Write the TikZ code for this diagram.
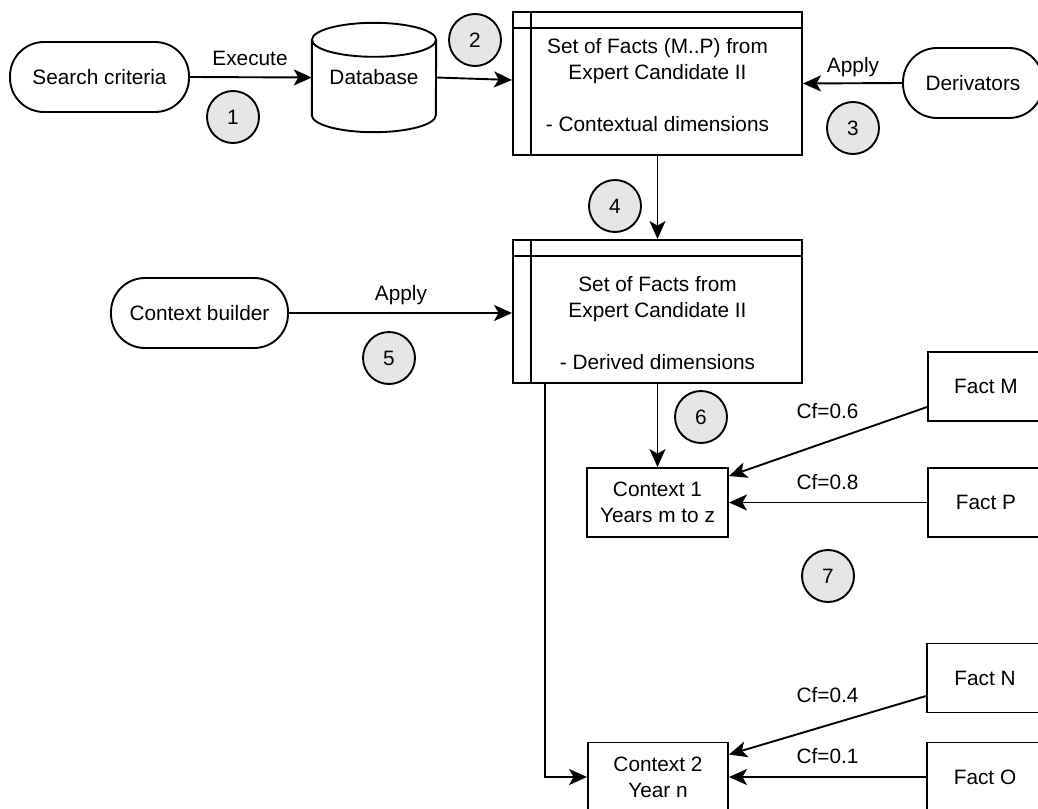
\documentclass[tikz,border=0pt]{standalone}
\usepackage{fontspec}
\setmainfont{Liberation Sans}
\usetikzlibrary{arrows.meta}
\definecolor{badgefill}{HTML}{E6E6E6}
\begin{document}
\begin{tikzpicture}[x=1pt,y=-1pt,
  every node/.style={font=\fontsize{20.8}{26}\selectfont, inner sep=0pt},
  outline/.style={line width=1.9pt},
  terminal/.style={outline, draw, rectangle, rounded corners=34pt, minimum height=70pt},
  procbox/.style={outline, draw, rectangle, minimum width=289pt, minimum height=143pt},
  plainbox/.style={outline, draw, rectangle, minimum height=69pt},
  badge/.style={outline, draw, circle, fill=badgefill, minimum size=52pt},
  flow/.style={outline, -{Stealth[length=18pt,width=16pt,inset=4.5pt]}},
  lbl/.style={text height=15pt, text depth=4pt}]

\useasboundingbox (0,0) rectangle (1038,808);
\clip (0,0) rectangle (1038,808);

% terminals and data store
\node[terminal, minimum width=179pt] (search) at (99.5,77) {Search criteria};
\node[minimum width=124pt, minimum height=109pt] (db) at (374,77.5) {Database};
\node[terminal, minimum width=140pt] (deriv) at (973,83) {Derivators};
\node[terminal, minimum width=177pt] (ctxb) at (199.5,313) {Context builder};

% cylinder outline of the database
\draw[outline] ([yshift=-17pt]db.north) ellipse [x radius=62pt, y radius=17pt];
\draw[outline] ([yshift=-17pt]db.north west) -- ([yshift=17pt]db.south west)
  arc[start angle=180, end angle=360, x radius=62pt, y radius=17pt]
  -- ([yshift=-17pt]db.north east);

% process boxes with header strip and side bar
\node[procbox] (facts1) at (657.5,83.5) {};
\draw[outline] ([xshift=19pt]facts1.north west) -- ([xshift=19pt]facts1.south west);
\draw[outline] ([yshift=-17pt]facts1.north west) -- ([yshift=-17pt]facts1.north east);
\node[align=center] (facts1text) at (657.5,85) {Set of Facts (M..P) from\\Expert Candidate II\\[26pt]- Contextual dimensions};

\node[procbox] (facts2) at (657.5,311.5) {};
\draw[outline] ([xshift=19pt]facts2.north west) -- ([xshift=19pt]facts2.south west);
\draw[outline] ([yshift=-17pt]facts2.north west) -- ([yshift=-17pt]facts2.north east);
\node[align=center] (facts2text) at (657.5,323.5) {Set of Facts from\\Expert Candidate II\\[26pt]- Derived dimensions};

% contexts and facts
\node[plainbox, minimum width=141pt, align=center] (ctx1) at (657.5,502.5) {Context 1\\Years m to z};
\node[plainbox, minimum width=140pt, align=center] (ctx2) at (658,777) {Context 2\\Year n};
\node[plainbox, minimum width=116pt] (factM) at (986,386.5) {Fact M};
\node[plainbox, minimum width=116pt] (factP) at (986,502.5) {Fact P};
\node[plainbox, minimum width=116pt] (factN) at (985,678) {Fact N};
\node[plainbox, minimum width=116pt] (factO) at (985,777) {Fact O};

% step badges
\node[badge] (n1) at (233,117) {1};
\node[badge] (n2) at (475,40) {2};
\node[badge] (n3) at (853,128) {3};
\node[badge] (n4) at (615,206) {4};
\node[badge] (n5) at (389,358) {5};
\node[badge] (n6) at (701,417) {6};
\node[badge] (n7) at (828,576) {7};

% edge labels
\node[lbl] (lexec) at (250,60) {Execute};
\node[lbl] (lapply1) at (853,67) {Apply};
\node[lbl] (lapply2) at (401,295) {Apply};
\node[lbl] (lcf6) at (827.5,413) {Cf=0.6};
\node[lbl] (lcf8) at (827.5,484) {Cf=0.8};
\node[lbl] (lcf4) at (827.5,697) {Cf=0.4};
\node[lbl] (lcf1) at (827.5,758) {Cf=0.1};

% connectors
\draw[flow] (search.east) -- (db.west);
\draw[flow] (db.east) -- ([yshift=3.5pt]facts1.west);
\draw[flow] (deriv.west) -- (facts1.east);
\draw[flow] (facts1.south) -- (facts2.north);
\draw[flow] (ctxb.east) -- (ctxb.east -| facts2.west);
\draw[flow] (facts2.south) -- (ctx1.north);
\draw[flow] ([xshift=33pt]facts2.south west) |- (ctx2.west);
\draw[flow] ([yshift=-20.5pt]factM.west) -- ([yshift=-9pt]ctx1.north east);
\draw[flow] (factP.west) -- (ctx1.east);
\draw[flow] ([yshift=-18pt]factN.west) -- ([yshift=-13pt]ctx2.north east);
\draw[flow] (factO.west) -- (ctx2.east);
\end{tikzpicture}
\end{document}
